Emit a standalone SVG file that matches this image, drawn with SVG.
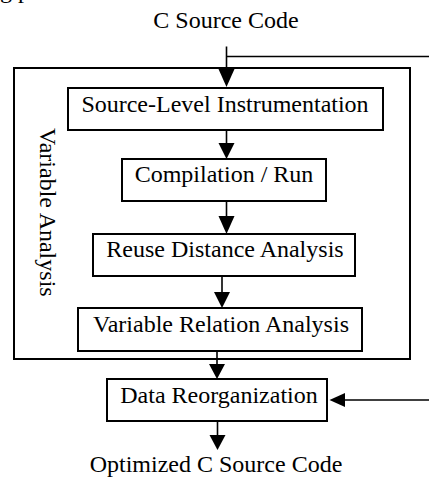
<svg xmlns="http://www.w3.org/2000/svg" width="429" height="478" viewBox="0 0 429 478">
  <style>
    text { font-family: "Liberation Serif", "Times New Roman", serif; font-size: 24px; fill: #000; }
    .mid { text-anchor: middle; }
    .box { fill: #fff; stroke: #000; stroke-width: 2; }
    .frame { fill: none; stroke: #000; stroke-width: 2; }
    .wire { fill: none; stroke: #000; stroke-width: 1.6; }
    .head { fill: #000; stroke: none; }
  </style>

  <!-- descenders of the line above, cut off by the top edge -->
  <text x="0" y="-2">g p</text>

  <!-- input / output labels -->
  <g id="input">
    <text class="mid" x="226" y="28">C Source Code</text>
  </g>
  <g id="output">
    <text class="mid" x="216" y="472">Optimized C Source Code</text>
  </g>

  <!-- enclosing variable-analysis stage -->
  <g id="variable-analysis">
    <rect class="frame" x="14" y="68" width="396" height="291"/>
    <text x="40" y="128" transform="rotate(90 40 128)">Variable Analysis</text>
  </g>

  <g id="instrumentation">
    <rect class="box" x="68" y="88" width="315" height="42"/>
    <text class="mid" x="225" y="112">Source-Level Instrumentation</text>
  </g>

  <g id="compilation">
    <rect class="box" x="122" y="159" width="204" height="42"/>
    <text class="mid" x="224" y="182">Compilation / Run</text>
  </g>

  <g id="reuse-distance">
    <rect class="box" x="93" y="234" width="262" height="42"/>
    <text class="mid" x="225" y="257">Reuse Distance Analysis</text>
  </g>

  <g id="variable-relation">
    <rect class="box" x="78" y="308" width="284" height="43"/>
    <text class="mid" x="221" y="332">Variable Relation Analysis</text>
  </g>

  <g id="data-reorganization">
    <rect class="box" x="107" y="379" width="220" height="42"/>
    <text class="mid" x="219" y="403">Data Reorganization</text>
  </g>

  <!-- connectors -->
  <g id="connectors">
    <!-- source code into instrumentation, with a branch off to the right -->
    <path class="wire" d="M226.5 46.5 V72"/>
    <path class="wire" d="M226.5 56.5 H429"/>
    <polygon class="head" points="218.5,69 234.5,69 226.5,87"/>

    <!-- instrumentation to compilation -->
    <path class="wire" d="M226.5 130 V145"/>
    <polygon class="head" points="218.5,143 234.5,143 226.5,159"/>

    <!-- compilation to reuse distance -->
    <path class="wire" d="M226.5 201 V218"/>
    <polygon class="head" points="218.5,216 234.5,216 226.5,234"/>

    <!-- reuse distance to variable relation -->
    <path class="wire" d="M222 276 V294"/>
    <polygon class="head" points="214,292 230,292 222,308"/>

    <!-- variable relation to data reorganization -->
    <path class="wire" d="M217 351 V366"/>
    <polygon class="head" points="209,364 225,364 217,379"/>

    <!-- branch feeding data reorganization from the right -->
    <path class="wire" d="M429 400 H343"/>
    <polygon class="head" points="345,393 345,407 329.5,400"/>

    <!-- data reorganization to optimized code -->
    <path class="wire" d="M217.5 421 V437"/>
    <polygon class="head" points="209.5,435 225.5,435 217.5,450"/>
  </g>
</svg>
